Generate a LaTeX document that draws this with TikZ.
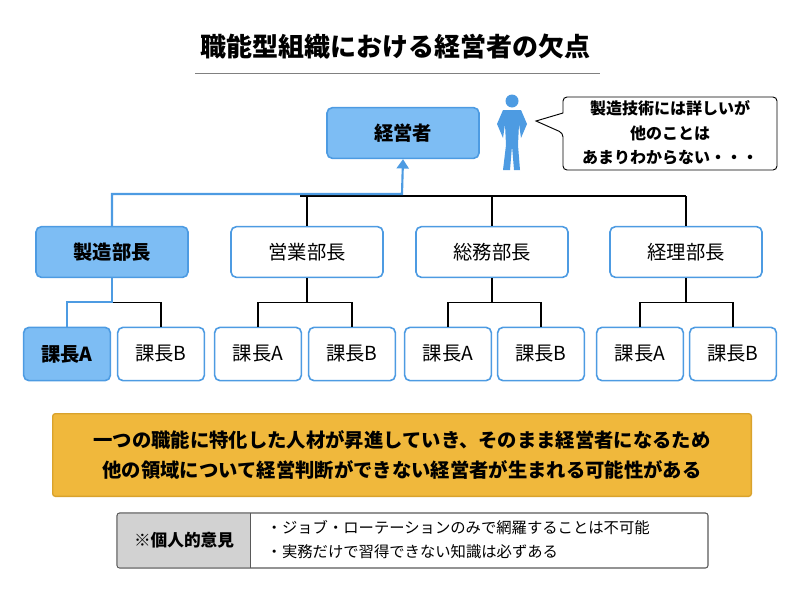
\documentclass[tikz,border=0pt]{standalone}
\usepackage{fontspec}
\setmainfont{Noto Sans CJK JP}
\usetikzlibrary{positioning,arrows.meta}
\definecolor{skyfill}{HTML}{7DBDF4}
\definecolor{skyline}{HTML}{4D9BE2}
\definecolor{gold}{HTML}{F0B83C}
\definecolor{goldline}{HTML}{D9A22C}
\tikzset{
  box/.style={draw=skyline, line width=1.2pt, rounded corners=4pt, fill=white, font=\fontsize{14.5}{16}\selectfont, inner sep=0pt},
  dept/.style={box, minimum width=114pt, minimum height=38pt},
  sect/.style={box, minimum width=65pt, minimum height=40pt},
  hot/.style={fill=skyfill, font=\fontsize{14.5}{16}\selectfont\bfseries},
  tree/.style={line width=0.9pt, black},
  path/.style={line width=1.6pt, skyline}
}
\begin{document}
\begin{tikzpicture}[x=0.75pt, y=-0.75pt]
  \useasboundingbox (0,0) rectangle (800,600);
  % Titel
  \node[font=\fontsize{19.5}{22}\selectfont\bfseries] (title) at (395,47) {職能型組織における経営者の欠点};
  \draw[gray, line width=0.6pt] (195,73) -- (600,73);

  % Knoten
  \node[dept, hot] (boss) at (403,133) {経営者};
  \node[dept, hot] (d1) at (112,252) {製造部長};
  \node[dept] (d2) at (307,252) {営業部長};
  \node[dept] (d3) at (492,252) {総務部長};
  \node[dept] (d4) at (686,252) {経理部長};
  \node[sect, hot] (s1a) at (67,354) {課長A};
  \node[sect] (s1b) at (161,354) {課長B};
  \node[sect] (s2a) at (258,354) {課長A};
  \node[sect] (s2b) at (352,354) {課長B};
  \node[sect] (s3a) at (448,354) {課長A};
  \node[sect] (s3b) at (541,354) {課長B};
  \node[sect] (s4a) at (640,354) {課長A};
  \node[sect] (s4b) at (733,354) {課長B};

  % Person
  \fill[skyline] (512,101) circle (6.5);
  \fill[skyline] (503,110) -- (521,110) -- (527,124) -- (521,138) -- (519,124) -- (518,145)
    -- (520,170) -- (514,170) -- (512,146) -- (510,170) -- (503,170) -- (506,145)
    -- (505,124) -- (503,138) -- (497,124) -- cycle;

  % Sprechblase
  \draw[rounded corners=3pt, line width=0.7pt, fill=white] (563,97) -- (777,97) -- (777,170)
    -- (563,170) -- (563,133) [sharp corners] -- (536,121) -- (563,113) [rounded corners=3pt] -- cycle;
  \node[align=center, font=\fontsize{12}{18.5}\selectfont\bfseries] (talk) at (670,133)
    {製造技術には詳しいが\\他のことは\\あまりわからない・・・};

  % Linien
  \draw[tree] (300,196) -- (686,196);
  \foreach \d/\x in {d2/307,d3/492,d4/686} \draw[tree] (\x,196) -- (\d.north);
  \draw[path, -{Triangle[length=7pt,width=9pt]}] (d1.north) |- (402,194) -- (boss.south);
  \foreach \d/\a/\b in {d2/s2a/s2b,d3/s3a/s3b,d4/s4a/s4b}
    \draw[tree] (\d.south) -- ++(0,24) coordinate (\d k) (\a.north) |- (\d k) -| (\b.north);
  \draw[tree] (d1.south) ++(0,24) -| (s1b.north);
  \draw[path] (d1.south) -- ++(0,24) -| (s1a.north);

  % Fazit
  \node[draw=goldline, fill=gold, line width=1pt, rounded corners=2pt, minimum width=524pt, minimum height=62pt,
    align=center, font=\fontsize{14.5}{23}\selectfont\bfseries] (note) at (402,455)
    {一つの職能に特化した人材が昇進していき、そのまま経営者になるため\\他の領域について経営判断ができない経営者が生まれる可能性がある};

  % Meinung
  \draw[gray!70!black, line width=0.8pt, rounded corners=2pt] (117,513) rectangle (708,568);
  \fill[gray!35] (118,514) rectangle (250,567);
  \draw[gray!70!black, line width=0.6pt] (250,513) -- (250,568);
  \node[font=\fontsize{12.5}{14}\selectfont\bfseries] (own) at (184,540) {※個人的意見};
  \node[anchor=west, align=left, font=\fontsize{11.5}{18}\selectfont] (list) at (262,540)
    {・ジョブ・ローテーションのみで網羅することは不可能\\・実務だけで習得できない知識は必ずある};
\end{tikzpicture}
\end{document}
